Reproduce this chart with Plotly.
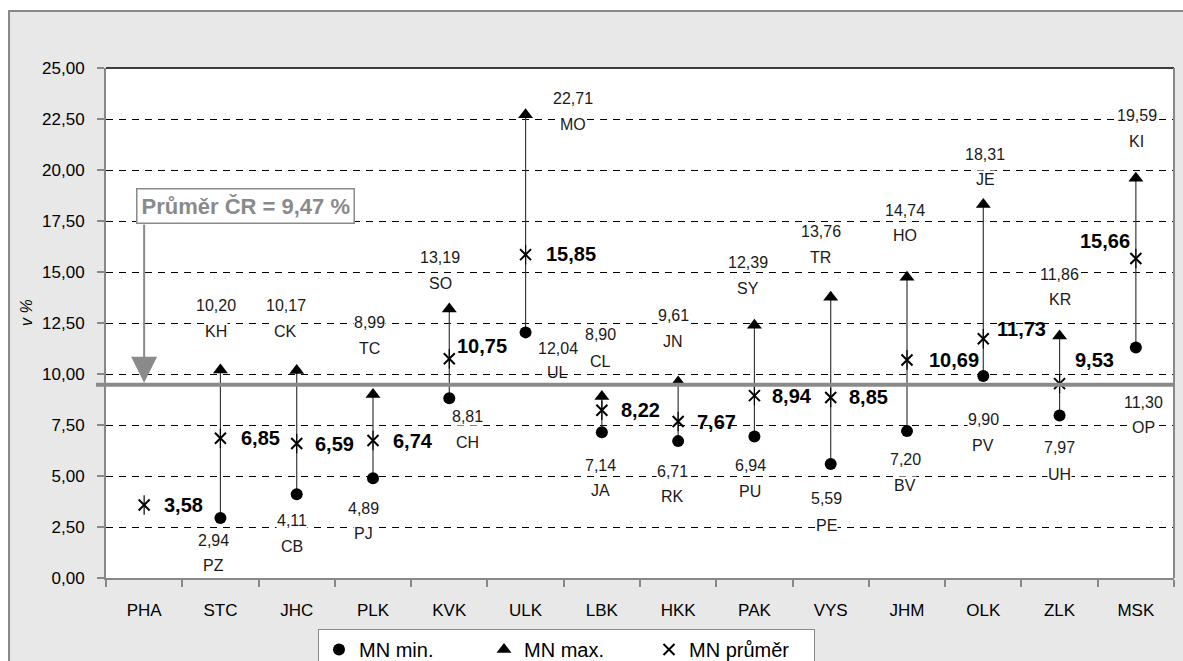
import plotly.graph_objects as go

# ---------------- data ----------------
regions = ['PHA', 'STC', 'JHC', 'PLK', 'KVK', 'ULK', 'LBK', 'HKK', 'PAK', 'VYS', 'JHM', 'OLK', 'ZLK', 'MSK']
mn_min = [None, 2.94, 4.11, 4.89, 8.81, 12.04, 7.14, 6.71, 6.94, 5.59, 7.20, 9.90, 7.97, 11.30]
min_codes = [None, 'PZ', 'CB', 'PJ', 'CH', 'UL', 'JA', 'RK', 'PU', 'PE', 'BV', 'PV', 'UH', 'OP']
mn_max = [None, 10.20, 10.17, 8.99, 13.19, 22.71, 8.90, 9.61, 12.39, 13.76, 14.74, 18.31, 11.86, 19.59]
max_codes = [None, 'KH', 'CK', 'TC', 'SO', 'MO', 'CL', 'JN', 'SY', 'TR', 'HO', 'JE', 'KR', 'KI']
mn_avg = [3.58, 6.85, 6.59, 6.74, 10.75, 15.85, 8.22, 7.67, 8.94, 8.85, 10.69, 11.73, 9.53, 15.66]
cr_avg = 9.47
y_ticks = [0, 2.5, 5, 7.5, 10, 12.5, 15, 17.5, 20, 22.5, 25]

# ---------------- label placement (pixel offsets: dx, dy_value, dy_code; +dy = down) ----------------
min_label_off = [None, (-7, 22, 47), (-5, 26, 52), (-10, 30, 55), (18, 18, 44), (32, 16, 40),
                 (-1, 33, 58), (-6, 30, 55), (-4, 29, 55), (-4, 35, 62), (-2, 28, 54),
                 (0, 43, 69), (0, 32, 59), (8, 55, 80)]
max_label_off = [None, (-4, -64, -38), (-11, -65, -39), (-4, -72, -46), (-9, -51, -25), (47, -16, 10),
                 (-1, -62, -35), (-5, -66, -40), (-6, -63, -37), (-10, -66, -40), (-2, -67, -42),
                 (2, -50, -25), (0, -62, -37), (1, -63, -37)]
avg_label_off = [(39, 0), (40, 0), (38, 0), (40, 0), (33, -13), (45, -1), (39, 0), (38, 0),
                 (38, 0), (38, 0), (47, 0), (38, -10), (35, -24), (-31, -18)]
no_bg_codes = {'UL'}


def fmt(v):
    return f'{v:.2f}'.replace('.', ',')


FONT = 'Liberation Sans, Arial, sans-serif'
GRAY = '#8a8a8a'

fig = go.Figure()

# connectors min -> max
cx, cy = [], []
for r, lo, hi in zip(regions, mn_min, mn_max):
    if lo is None or hi is None:
        continue
    cx += [r, r, None]
    cy += [lo, hi, None]
fig.add_trace(go.Scatter(x=cx, y=cy, mode='lines', line=dict(color='#3a3a3a', width=1.2),
                         showlegend=False, hoverinfo='skip'))

fig.add_trace(go.Scatter(x=regions, y=mn_min, mode='markers', name='MN min.',
                         marker=dict(symbol='circle', size=12, color='black')))
fig.add_trace(go.Scatter(x=regions, y=mn_max, mode='markers', name='MN max.',
                         marker=dict(symbol='triangle-up', size=13, color='black')))
fig.add_trace(go.Scatter(x=regions, y=mn_avg, mode='markers', name='MN průměr',
                         marker=dict(symbol='x-thin-open', size=11, color='black',
                                     line=dict(color='black', width=2))))
fig.add_trace(go.Scatter(x=regions, y=mn_avg, mode='markers', showlegend=False, hoverinfo='skip',
                         marker=dict(symbol='line-ns-open', size=14, color='black',
                                     line=dict(color='black', width=1.2))))

ann = []
lab_font = dict(family=FONT, size=16, color='#1a1a1a')
bold_font = dict(family=FONT, size=20, color='black')
for i, r in enumerate(regions):
    if mn_min[i] is not None:
        dx, dv, dc = min_label_off[i]
        bg = 'rgba(0,0,0,0)' if min_codes[i] in no_bg_codes else 'white'
        ann.append(dict(x=r, y=mn_min[i], text=fmt(mn_min[i]), showarrow=False, xshift=dx, yshift=-dv,
                        font=lab_font, bgcolor=bg, borderpad=0))
        ann.append(dict(x=r, y=mn_min[i], text=min_codes[i], showarrow=False, xshift=dx, yshift=-dc,
                        font=lab_font, bgcolor=bg, borderpad=0))
    if mn_max[i] is not None:
        dx, dv, dc = max_label_off[i]
        ann.append(dict(x=r, y=mn_max[i], text=fmt(mn_max[i]), showarrow=False, xshift=dx, yshift=-dv,
                        font=lab_font, bgcolor='white', borderpad=0))
        ann.append(dict(x=r, y=mn_max[i], text=max_codes[i], showarrow=False, xshift=dx, yshift=-dc,
                        font=lab_font, bgcolor='white', borderpad=0))
    dx, dv = avg_label_off[i]
    ann.append(dict(x=r, y=mn_avg[i], text='<b>' + fmt(mn_avg[i]) + '</b>', showarrow=False,
                    xshift=dx, yshift=-dv, font=bold_font))

# Czech average callout
ann.append(dict(x=regions[0], y=cr_avg, ax=regions[0], ay=17.39, axref='x', ayref='y',
                text='', showarrow=True, arrowhead=2, arrowsize=2.6, arrowwidth=2,
                arrowcolor=GRAY, standoff=2, startstandoff=0))
ann.append(dict(xref='paper', yref='paper', x=0.0281, y=0.7647, xanchor='left', yanchor='top',
                text='<b>Průměr ČR = ' + fmt(cr_avg) + ' %</b>', showarrow=False,
                font=dict(family=FONT, size=22, color=GRAY), bgcolor='white',
                bordercolor=GRAY, borderwidth=1.5, borderpad=4))
# y axis title
ann.append(dict(xref='paper', yref='paper', x=-0.074, y=0.5216, text='<i>v %</i>', textangle=-90,
                xanchor='center', yanchor='middle',
                showarrow=False, font=dict(family=FONT, size=16, color='black')))

shapes = [
    # outer chart frame
    dict(type='rect', xref='paper', yref='paper', x0=-0.0908, x1=1.2, y0=-0.3, y1=1.1118,
         fillcolor='#e8e8e8', line=dict(color='#888888', width=2), layer='below'),
    # plot area
    dict(type='rect', xref='paper', yref='paper', x0=0, x1=1, y0=0, y1=1,
         fillcolor='white', line=dict(width=0), layer='below'),
    # top border
    dict(type='line', xref='paper', yref='paper', x0=0, x1=1, y0=1, y1=1,
         line=dict(color='black', width=1.5)),
    # right border
    dict(type='line', xref='paper', yref='paper', x0=1, x1=1, y0=0, y1=1,
         line=dict(color='#888888', width=2)),
    # Czech average line
    dict(type='line', xref='paper', yref='y', x0=-0.0094, x1=1, y0=cr_avg, y1=cr_avg,
         line=dict(color=GRAY, width=4)),
]

fig.update_layout(
    width=1183, height=661,
    margin=dict(l=106, r=9, t=68, b=83, autoexpand=False),
    paper_bgcolor='white', plot_bgcolor='white',
    separators=', ',
    font=dict(family=FONT, size=14, color='black'),
    showlegend=True,
    legend=dict(orientation='h', x=0.1985, xanchor='left', y=-0.1, yanchor='top',
                bgcolor='white', bordercolor=GRAY, borderwidth=1,
                font=dict(family=FONT, size=20, color='black'),
                entrywidth=120, entrywidthmode='pixels', itemclick=False),
    annotations=ann,
    shapes=shapes,
    hovermode=False,
)
fig.update_xaxes(type='category', categoryorder='array', categoryarray=regions,
                 range=[-0.5, len(regions) - 0.5], showgrid=False, zeroline=False,
                 showline=True, linecolor='#888888', linewidth=2,
                 ticks='outside', tickson='boundaries', ticklen=7, tickcolor='#888888', tickwidth=1.5,
                 ticklabelstandoff=16, tickfont=dict(family=FONT, size=17, color='black'))
fig.update_yaxes(range=[0, 25], tickvals=y_ticks, tickformat='.2f', showgrid=True,
                 gridcolor='black', gridwidth=1, griddash='7px,6px', zeroline=False,
                 showline=True, linecolor='#888888', linewidth=2,
                 ticks='outside', ticklen=7, tickcolor='#888888', tickwidth=1.5,
                 ticklabelstandoff=9, tickfont=dict(family=FONT, size=17, color='black'))

fig.write_html('out.html', config={'displayModeBar': False},
               post_script="document.body.style.margin='0';document.body.style.overflow='hidden';")
